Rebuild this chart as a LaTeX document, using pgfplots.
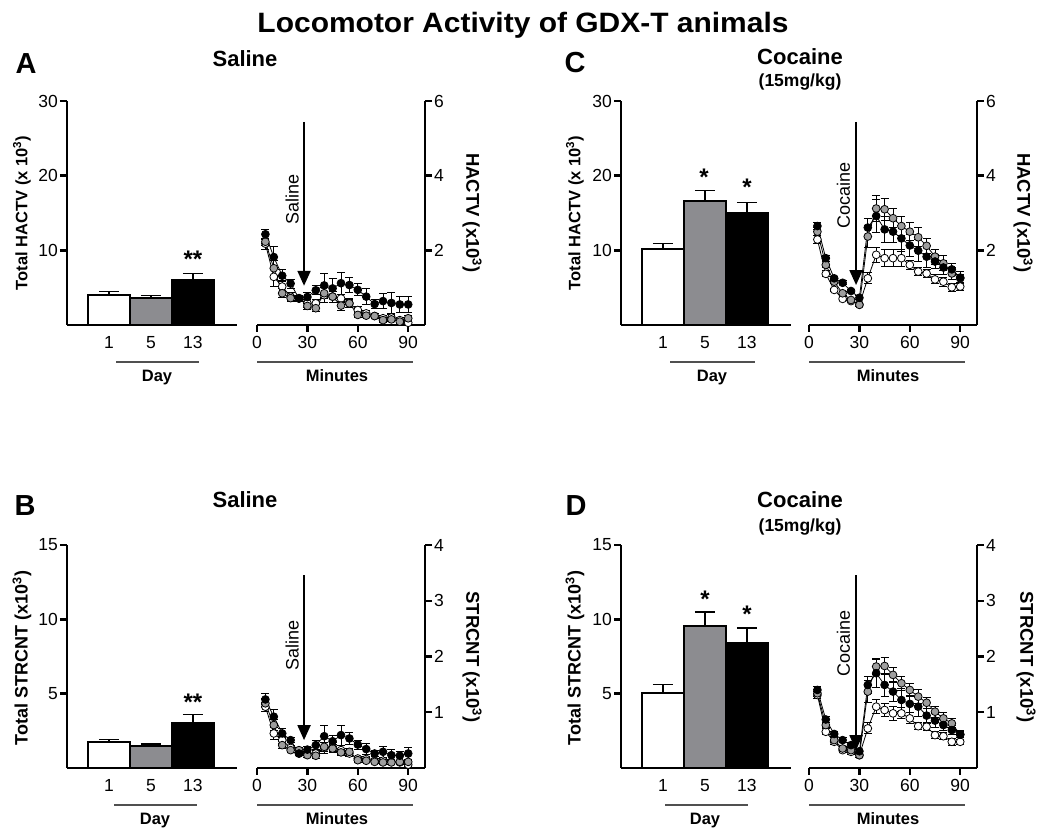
\documentclass[border=0pt]{standalone}
\usepackage{fontspec}
\setmainfont{Liberation Sans}
\usepackage{pgfplots}
\usepackage{pgfplotstable}
\pgfplotsset{compat=1.18}
\usetikzlibrary{arrows.meta}
\newcommand\fs[1]{\fontsize{#1}{#1}\selectfont}
\definecolor{bargray}{RGB}{140,140,144}
\definecolor{ptgray}{RGB}{158,158,158}
\definecolor{ulgray}{RGB}{80,80,80}

\pgfplotstableread{
t w we g ge b be
5 2.18 .15 2.23 .10 2.43 .13
10 1.29 .25 1.52 .20 1.82 .29
15 1.03 .15 0.85 .12 1.32 .16
20 0.76 .10 0.72 .08 1.11 .12
25 0.71 .08 0.72 .06 0.71 .06
30 0.58 .10 0.51 .10 0.75 .12
35 0.58 .10 0.45 .10 0.93 .12
40 0.80 .20 0.85 .15 1.06 .33
45 0.76 .15 0.76 .15 0.98 .27
50 0.71 .12 0.52 .12 1.12 .29
55 0.58 .10 0.58 .12 1.07 .20
60 0.40 .10 0.27 .06 0.94 .16
65 0.31 .08 0.25 .06 0.76 .22
70 0.24 .06 0.24 .06 0.56 .13
75 0.18 .08 0.13 .06 0.64 .20
80 0.20 .08 0.15 .05 0.59 .27
85 0.13 .06 0.09 .05 0.55 .22
90 0.06 .06 0.18 .08 0.55 .22
}\tabA
\pgfplotstableread{
t w we g ge b be
5 1.10 .08 1.16 .08 1.23 .10
10 0.62 .10 0.77 .10 0.92 .13
15 0.50 .06 0.41 .06 0.62 .08
20 0.36 .05 0.32 .05 0.50 .05
25 0.26 .04 0.32 .04 0.26 .04
30 0.26 .04 0.23 .04 0.33 .05
35 0.26 .05 0.22 .05 0.41 .08
40 0.36 .10 0.38 .08 0.57 .20
45 0.38 .08 0.35 .08 0.48 .10
50 0.32 .08 0.28 .06 0.59 .18
55 0.26 .06 0.29 .06 0.53 .10
60 0.17 .04 0.14 .04 0.42 .08
65 0.16 .04 0.13 .04 0.34 .10
70 0.13 .04 0.11 .03 0.26 .05
75 0.13 .04 0.10 .03 0.29 .10
80 0.11 .04 0.10 .03 0.23 .10
85 0.10 .04 0.11 .03 0.22 .08
90 0.06 .04 0.11 .03 0.26 .10
}\tabB
\pgfplotstableread{
t w we g ge b be
5 2.29 .10 2.50 .10 2.65 .10
10 1.37 .08 1.61 .08 1.79 .08
15 0.94 .05 1.16 .05 1.25 .05
20 0.70 .05 0.85 .05 1.13 .05
25 0.64 .05 0.67 .05 0.91 .05
30 0.55 .05 0.54 .05 0.73 .05
35 1.25 .15 2.37 .30 2.61 .25
40 1.88 .20 3.12 .35 2.92 .45
45 1.79 .22 3.10 .30 2.56 .35
50 1.79 .22 2.86 .25 2.50 .30
55 1.79 .22 2.65 .25 2.32 .35
60 1.61 .12 2.50 .25 2.13 .30
65 1.43 .10 2.35 .25 1.99 .30
70 1.38 .10 2.12 .20 1.83 .30
75 1.22 .12 1.83 .20 1.70 .20
80 1.16 .12 1.65 .20 1.54 .20
85 1.01 .10 1.38 .15 1.49 .15
90 1.03 .10 1.25 .10 1.27 .15
}\tabC
\pgfplotstableread{
t w we g ge b be
5 1.31 .06 1.34 .06 1.40 .06
10 0.65 .05 0.77 .05 0.87 .05
15 0.47 .04 0.50 .04 0.61 .04
20 0.32 .04 0.35 .04 0.50 .04
25 0.29 .04 0.32 .04 0.41 .04
30 0.23 .04 0.23 .04 0.30 .04
35 0.71 .10 1.37 .20 1.49 .15
40 1.10 .12 1.82 .15 1.70 .25
45 1.04 .12 1.83 .15 1.49 .20
50 0.98 .12 1.67 .13 1.37 .18
55 0.98 .10 1.52 .13 1.22 .20
60 0.89 .10 1.40 .12 1.15 .15
65 0.75 .06 1.28 .12 1.10 .18
70 0.74 .06 1.17 .10 0.94 .12
75 0.59 .06 1.01 .10 0.85 .12
80 0.57 .06 0.89 .10 0.77 .10
85 0.47 .06 0.80 .08 0.68 .08
90 0.47 .05 0.60 .06 0.60 .08
}\tabD

\pgfplotsset{
  common/.style={
    scale only axis, anchor=south west, clip=false,
    axis line style={line width=2.4pt},
    major tick length=7pt, tick align=outside,
    every tick/.style={black, line width=2.4pt},
    tick label style={font=\fs{17.5}, inner sep=2pt},
    xticklabel style={yshift=-2pt},
    /pgf/number format/assume math mode=true,
  },
  barax/.style={common, width=170pt,
    axis x line*=bottom, axis y line*=left,
    xtick pos=left, ytick pos=left,
    xmin=-1, xmax=3.05, ymin=0,
    xtick={0,1,2}, xticklabels={1,5,13}, xtick style={draw=none},
  },
  lineax/.style={common, width=168pt,
    axis x line*=bottom, axis y line*=right,
    xtick pos=left, ytick pos=right, yticklabel pos=right,
    xmin=0, xmax=100, ymin=0,
    xtick={0,30,60,90},
  },
  barp/.style={ybar, bar width=1, bar shift=0pt, draw=black, line width=1.8pt, fill=#1,
    error bars/.cd, y dir=plus, y explicit,
    error bar style={line width=1.5pt, black},
    error mark options={rotate=90, mark size=10pt, line width=1.5pt, black}},
  ser/.style={black, line width=0.8pt, mark=*, mark size=3.9pt,
    mark options={fill=#1, draw=black, line width=0.8pt, solid},
    error bars/.cd, y dir=both, y explicit,
    error bar style={line width=1pt, black},
    error mark options={rotate=90, mark size=4pt, line width=1pt, black}},
}

\begin{document}
\begin{tikzpicture}
\useasboundingbox (0pt,0pt) rectangle (1050pt,829pt);

% ---------- titles ----------
\node[anchor=base, font=\bfseries\fs{28}, xscale=1.07] at (523pt,796pt) {Locomotor Activity of GDX-T animals};
\node[anchor=base west, font=\bfseries\fs{29}] at (12pt,755pt) {A};
\node[anchor=base west, font=\bfseries\fs{29}] at (561pt,756pt) {C};
\node[anchor=base west, font=\bfseries\fs{29}] at (11pt,313pt) {B};
\node[anchor=base west, font=\bfseries\fs{29}] at (562pt,313pt) {D};
\node[anchor=base, font=\bfseries\fs{22}] at (245pt,762pt) {Saline};
\node[anchor=base, font=\bfseries\fs{22}] at (245pt,321pt) {Saline};
\node[anchor=base, font=\bfseries\fs{22}] at (800pt,764pt) {Cocaine};
\node[anchor=base, font=\bfseries\fs{17.5}] at (800pt,742pt) {(15mg/kg)};
\node[anchor=base, font=\bfseries\fs{22}] at (800pt,321pt) {Cocaine};
\node[anchor=base, font=\bfseries\fs{17.5}] at (800pt,297pt) {(15mg/kg)};

% ---------- axis titles ----------
\node[rotate=90, font=\bfseries\fs{16.5}] at (22pt,616pt) {Total HACTV (x 10\textsuperscript{3})};
\node[rotate=90, font=\bfseries\fs{16.5}] at (575pt,616pt) {Total HACTV (x 10\textsuperscript{3})};
\node[rotate=90, font=\bfseries\fs{18}] at (22pt,171pt) {Total STRCNT (x10\textsuperscript{3})};
\node[rotate=90, font=\bfseries\fs{18}] at (575pt,171pt) {Total STRCNT (x10\textsuperscript{3})};
\node[rotate=-90, font=\bfseries\fs{18.5}] at (472pt,616pt) {HACTV (x10\textsuperscript{3})};
\node[rotate=-90, font=\bfseries\fs{18.5}] at (1023pt,616pt) {HACTV (x10\textsuperscript{3})};
\node[rotate=-90, font=\bfseries\fs{18.5}] at (472pt,172pt) {STRCNT (x10\textsuperscript{3})};
\node[rotate=-90, font=\bfseries\fs{18.5}] at (1026pt,172pt) {STRCNT (x10\textsuperscript{3})};

% ---------- Day / Minutes ----------
\draw[ulgray, line width=1.2pt] (116pt,467pt) -- (199pt,467pt);
\draw[ulgray, line width=1.2pt] (257pt,467pt) -- (413pt,467pt);
\draw[ulgray, line width=1.2pt] (670pt,467pt) -- (755pt,467pt);
\draw[ulgray, line width=1.2pt] (809pt,467pt) -- (965pt,467pt);
\draw[ulgray, line width=1.2pt] (114pt,24pt) -- (197pt,24pt);
\draw[ulgray, line width=1.2pt] (257pt,24pt) -- (413pt,24pt);
\draw[ulgray, line width=1.2pt] (665pt,24pt) -- (748pt,24pt);
\draw[ulgray, line width=1.2pt] (809pt,24pt) -- (965pt,24pt);
\foreach \x/\y/\t in {157/447/Day, 337/447/Minutes, 712/447/Day, 888/447/Minutes,
                      155/4.5/Day, 337/4.5/Minutes, 705/4.5/Day, 888/4.5/Minutes}
  \node[anchor=base, font=\bfseries\fs{16.5}] at (\x pt,\y pt) {\t};

% ---------- significance ----------
\node[anchor=base, font=\bfseries\fs{24}] at (193pt,561pt) {**};
\node[anchor=base, font=\bfseries\fs{24}] at (193pt,118.5pt) {**};
\node[anchor=base, font=\bfseries\fs{24}] at (704pt,643pt) {*};
\node[anchor=base, font=\bfseries\fs{24}] at (747pt,633pt) {*};
\node[anchor=base, font=\bfseries\fs{24}] at (705pt,221pt) {*};
\node[anchor=base, font=\bfseries\fs{24}] at (747pt,206pt) {*};

% ================= Panel A =================
\begin{axis}[barax, at={(67pt,504pt)}, height=224pt, ymax=30, ytick={10,20,30}]
\addplot[barp=white] coordinates {(0,4.02) +- (0,0.44)};
\addplot[barp=bargray] coordinates {(1,3.57) +- (0,0.35)};
\addplot[barp=black] coordinates {(2,6.02) +- (0,0.90)};
\end{axis}
\begin{axis}[lineax, at={(257pt,504pt)}, height=224pt, ymax=6, ytick={2,4,6}]
\addplot[ser=white] table[x=t, y=w, y error=we] {\tabA};
\addplot[ser=ptgray] table[x=t, y=g, y error=ge] {\tabA};
\addplot[ser=black] table[x=t, y=b, y error=be] {\tabA};
\draw[line width=2pt, -{Triangle[width=13pt,length=15pt]}] (axis cs:28,5.44) -- (axis cs:28,1.05);
\node[rotate=90, font=\fs{18}] at (axis cs:21,3.35) {Saline};
\end{axis}

% ================= Panel C =================
\begin{axis}[barax, at={(621pt,504pt)}, height=224pt, ymax=30, ytick={10,20,30}]
\addplot[barp=white] coordinates {(0,10.13) +- (0,0.80)};
\addplot[barp=bargray] coordinates {(1,16.6) +- (0,1.38)};
\addplot[barp=black] coordinates {(2,14.95) +- (0,1.45)};
\end{axis}
\begin{axis}[lineax, at={(809pt,504pt)}, height=224pt, ymax=6, ytick={2,4,6}]
\addplot[ser=white] table[x=t, y=w, y error=we] {\tabC};
\addplot[ser=ptgray] table[x=t, y=g, y error=ge] {\tabC};
\addplot[ser=black] table[x=t, y=b, y error=be] {\tabC};
\draw[line width=2pt, -{Triangle[width=13pt,length=15pt]}] (axis cs:28,5.44) -- (axis cs:28,1.07);
\node[rotate=90, font=\fs{18}] at (axis cs:20.5,3.48) {Cocaine};
\end{axis}

% ================= Panel B =================
\begin{axis}[barax, at={(67pt,61pt)}, height=223pt, ymax=15, ytick={5,10,15}]
\addplot[barp=white] coordinates {(0,1.77) +- (0,0.15)};
\addplot[barp=bargray] coordinates {(1,1.48) +- (0,0.13)};
\addplot[barp=black] coordinates {(2,3.00) +- (0,0.60)};
\end{axis}
\begin{axis}[lineax, at={(257pt,61pt)}, height=223pt, ymax=4, ytick={1,2,3,4}]
\addplot[ser=white] table[x=t, y=w, y error=we] {\tabB};
\addplot[ser=ptgray] table[x=t, y=g, y error=ge] {\tabB};
\addplot[ser=black] table[x=t, y=b, y error=be] {\tabB};
\draw[line width=2pt, -{Triangle[width=13pt,length=15pt]}] (axis cs:28,3.46) -- (axis cs:28,0.50);
\node[rotate=90, font=\fs{18}] at (axis cs:21,2.2) {Saline};
\end{axis}

% ================= Panel D =================
\begin{axis}[barax, at={(621pt,61pt)}, height=223pt, ymax=15, ytick={5,10,15}]
\addplot[barp=white] coordinates {(0,5.06) +- (0,0.56)};
\addplot[barp=bargray] coordinates {(1,9.53) +- (0,0.96)};
\addplot[barp=black] coordinates {(2,8.41) +- (0,1.01)};
\end{axis}
\begin{axis}[lineax, at={(809pt,61pt)}, height=223pt, ymax=4, ytick={1,2,3,4}]
\addplot[ser=white] table[x=t, y=w, y error=we] {\tabD};
\addplot[ser=ptgray] table[x=t, y=g, y error=ge] {\tabD};
\addplot[ser=black] table[x=t, y=b, y error=be] {\tabD};
\draw[line width=2pt, -{Triangle[width=13pt,length=15pt]}] (axis cs:28,3.46) -- (axis cs:28,0.32);
\node[rotate=90, font=\fs{18}] at (axis cs:20.5,2.24) {Cocaine};
\end{axis}
\end{tikzpicture}
\end{document}
